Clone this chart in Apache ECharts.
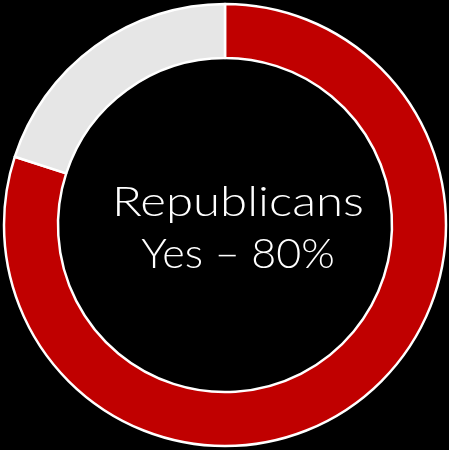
<!DOCTYPE html>
<html>
<head>
<meta charset="utf-8">
<script src="https://cdn.jsdelivr.net/npm/echarts@6/dist/echarts.min.js"></script>
<style>
  html, body { margin: 0; padding: 0; background: #000; }
  #chart { width: 449px; height: 450px; }
</style>
</head>
<body>
<div id="chart"></div>
<script>
// Share of Republicans answering yes / no
const categories = ['Yes', 'No'];
const values = [80, 20];
const sliceColors = ['#C00000', '#E6E6E6'];
const centerLines = ['Republicans', 'Yes – 80%'];

const chart = echarts.init(document.getElementById('chart'));

// Centre caption, one text element per line, stretched for a wide geometric look
const textX = 238;
const lineBaselines = [223, 275];
const lineStretch = [1.2, 1.05];
const captions = centerLines.map((line, i) => ({
  type: 'text',
  x: textX,
  y: lineBaselines[i],
  originX: 0,
  originY: 0,
  scaleX: lineStretch[i],
  silent: true,
  style: {
    text: line,
    fill: '#FFFFFF',
    font: '300 41px Lato',
    textAlign: 'center',
    textVerticalAlign: 'bottom'
  }
}));

chart.setOption({
  backgroundColor: '#000000',
  animation: false,
  series: [{
    type: 'pie',
    center: [225, 225],
    radius: [167, 221],
    startAngle: 90,
    clockwise: true,
    silent: true,
    label: { show: false },
    labelLine: { show: false },
    itemStyle: { borderColor: '#FFFFFF', borderWidth: 2.5 },
    data: categories.map((name, i) => ({
      name,
      value: values[i],
      itemStyle: { color: sliceColors[i] }
    }))
  }],
  graphic: captions
});
</script>
</body>
</html>
